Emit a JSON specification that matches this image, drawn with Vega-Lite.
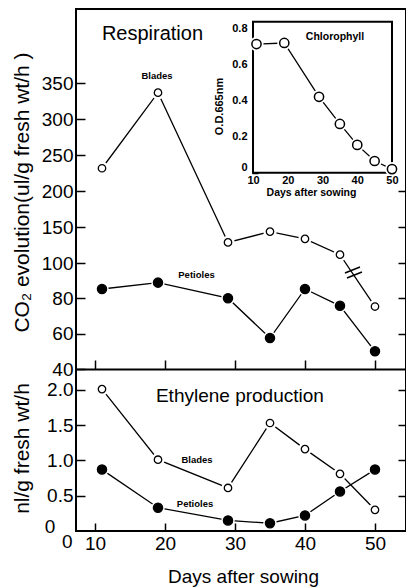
{
  "$schema": "https://vega.github.io/schema/vega-lite/v6.json",
  "width": 330,
  "height": 522,
  "autosize": {"type": "none"},
  "padding": {"left": 76, "top": 9, "right": 0, "bottom": 57},
  "background": "white",
  "config": {
    "view": {"stroke": "black", "strokeWidth": 2},
    "font": "Liberation Sans",
    "axis": {
      "labelFont": "Liberation Sans", "labelFontSize": 19, "labelColor": "black",
      "titleFont": "Liberation Sans", "titleFontWeight": "normal", "titleColor": "black",
      "tickColor": "black", "tickWidth": 1.5, "domain": false, "grid": false,
      "labelFlush": false, "labelOverlap": false
    }
  },
  "datasets": {
    "resp": [
      {"day": 11, "value": 232, "tissue": "Blades"},
      {"day": 19, "value": 337, "tissue": "Blades"},
      {"day": 29, "value": 129, "tissue": "Blades"},
      {"day": 35, "value": 144, "tissue": "Blades"},
      {"day": 40, "value": 134, "tissue": "Blades"},
      {"day": 45, "value": 112, "tissue": "Blades"},
      {"day": 50, "value": 75.3, "tissue": "Blades"},
      {"day": 11, "value": 85.2, "tissue": "Petioles"},
      {"day": 19, "value": 88.8, "tissue": "Petioles"},
      {"day": 29, "value": 80, "tissue": "Petioles"},
      {"day": 35, "value": 57.5, "tissue": "Petioles"},
      {"day": 40, "value": 85.2, "tissue": "Petioles"},
      {"day": 45, "value": 75.7, "tissue": "Petioles"},
      {"day": 50, "value": 50, "tissue": "Petioles"}
    ],
    "eth": [
      {"day": 11, "value": 2.01, "tissue": "Blades"},
      {"day": 19, "value": 1.01, "tissue": "Blades"},
      {"day": 29, "value": 0.61, "tissue": "Blades"},
      {"day": 35, "value": 1.53, "tissue": "Blades"},
      {"day": 40, "value": 1.16, "tissue": "Blades"},
      {"day": 45, "value": 0.81, "tissue": "Blades"},
      {"day": 50, "value": 0.30, "tissue": "Blades"},
      {"day": 11, "value": 0.87, "tissue": "Petioles"},
      {"day": 19, "value": 0.33, "tissue": "Petioles"},
      {"day": 29, "value": 0.15, "tissue": "Petioles"},
      {"day": 35, "value": 0.11, "tissue": "Petioles"},
      {"day": 40, "value": 0.22, "tissue": "Petioles"},
      {"day": 45, "value": 0.56, "tissue": "Petioles"},
      {"day": 50, "value": 0.87, "tissue": "Petioles"}
    ],
    "chl": [
      {"day": 11, "value": 0.712},
      {"day": 19, "value": 0.718},
      {"day": 29, "value": 0.42},
      {"day": 35, "value": 0.27},
      {"day": 40, "value": 0.154},
      {"day": 45, "value": 0.065},
      {"day": 50, "value": 0.02}
    ]
  },
  "layer": [
    {
      "layer": [
        {
          "data": {"name": "resp"},
          "mark": {"type": "line", "color": "black", "strokeWidth": 1.3},
          "encoding": {
            "x": {"field": "day", "type": "quantitative", "scale": {"domain": [7.286, 54.43], "nice": false, "zero": false},
              "axis": {"orient": "bottom", "offset": -162, "values": [10, 20, 30, 40, 50], "domain": true, "domainColor": "black", "domainWidth": 2, "labels": false, "tickSize": -9, "title": null}},
            "y": {"field": "value", "type": "quantitative", "scale": {"domain": [40, 90, 100, 453.2], "range": [360, 271.5, 254.3, 0], "nice": false, "zero": false},
              "axis": {"orient": "left", "values": [40, 60, 80, 100, 150, 200, 250, 300, 350], "format": "d", "tickSize": -9, "labelPadding": 12,
                "title": "CO₂ evolution(ul/g fresh wt/h )", "titleFontSize": 21, "titleX": -54, "titleY": 183, "titleAngle": -90, "titleBaseline": "middle", "titleAlign": "center"}},
            "detail": {"field": "tissue"}
          }
        },
        {
          "data": {"name": "resp"},
          "mark": {"type": "point", "shape": "circle", "filled": true, "color": "white", "size": 180, "opacity": 1},
          "encoding": {
            "x": {"field": "day", "type": "quantitative", "scale": {"domain": [7.286, 54.43], "nice": false, "zero": false}, "axis": null},
            "y": {"field": "value", "type": "quantitative", "scale": {"domain": [40, 90, 100, 453.2], "range": [360, 271.5, 254.3, 0], "nice": false, "zero": false}, "axis": null}
          }
        },
        {
          "data": {"name": "resp"},
          "mark": {"type": "point", "shape": "circle", "filled": true, "stroke": "black", "strokeWidth": 1.3, "opacity": 1},
          "encoding": {
            "x": {"field": "day", "type": "quantitative", "scale": {"domain": [7.286, 54.43], "nice": false, "zero": false}, "axis": null},
            "y": {"field": "value", "type": "quantitative", "scale": {"domain": [40, 90, 100, 453.2], "range": [360, 271.5, 254.3, 0], "nice": false, "zero": false},
              "axis": {"orient": "right", "values": [60, 80, 100, 150, 200], "tickSize": -8, "labels": false, "title": null}},
            "fill": {"field": "tissue", "type": "nominal", "scale": {"domain": ["Blades", "Petioles"], "range": ["white", "black"]}, "legend": null},
            "size": {"field": "tissue", "type": "nominal", "scale": {"domain": ["Blades", "Petioles"], "range": [55, 85]}, "legend": null}
          }
        },
        {
          "data": {"values": [
            {"day": 45.71, "value": 94.36, "day2": 47.86, "value2": 97.85},
            {"day": 46.0, "value": 91.45, "day2": 48.14, "value2": 94.94}
          ]},
          "mark": {"type": "rule", "color": "black", "strokeWidth": 1.5},
          "encoding": {
            "x": {"field": "day", "type": "quantitative", "scale": {"domain": [7.286, 54.43], "nice": false, "zero": false}, "axis": null},
            "y": {"field": "value", "type": "quantitative", "scale": {"domain": [40, 90, 100, 453.2], "range": [360, 271.5, 254.3, 0], "nice": false, "zero": false}, "axis": null},
            "x2": {"field": "day2"},
            "y2": {"field": "value2"}
          }
        },
        {
          "data": {"values": [{"day": 18.21, "value": 417.8, "text": "Respiration"}]},
          "mark": {"type": "text", "fontSize": 20, "color": "black", "align": "center", "baseline": "middle"},
          "encoding": {
            "x": {"field": "day", "type": "quantitative", "scale": {"domain": [7.286, 54.43], "nice": false, "zero": false}, "axis": null},
            "y": {"field": "value", "type": "quantitative", "scale": {"domain": [40, 90, 100, 453.2], "range": [360, 271.5, 254.3, 0], "nice": false, "zero": false}, "axis": null},
            "text": {"field": "text"}
          }
        },
        {
          "data": {"values": [
            {"day": 18.86, "value": 360.1, "text": "Blades"},
            {"day": 24.5, "value": 93.2, "text": "Petioles"}
          ]},
          "mark": {"type": "text", "fontSize": 9.5, "fontWeight": "bold", "color": "black", "align": "center", "baseline": "middle"},
          "encoding": {
            "x": {"field": "day", "type": "quantitative", "scale": {"domain": [7.286, 54.43], "nice": false, "zero": false}, "axis": null},
            "y": {"field": "value", "type": "quantitative", "scale": {"domain": [40, 90, 100, 453.2], "range": [360, 271.5, 254.3, 0], "nice": false, "zero": false}, "axis": null},
            "text": {"field": "text"}
          }
        }
      ],
      "resolve": {"axis": {"x": "independent", "y": "independent"}}
    },
    {
      "layer": [
        {
          "data": {"name": "eth"},
          "mark": {"type": "line", "color": "black", "strokeWidth": 1.3},
          "encoding": {
            "x": {"field": "day", "type": "quantitative", "scale": {"domain": [7.286, 54.43], "nice": false, "zero": false},
              "axis": {"orient": "bottom", "values": [10, 20, 30, 40, 50], "format": "d", "tickSize": -8, "labelPadding": 11,
                "title": "Days after sowing", "titleFontSize": 19, "titleX": 167, "titleY": 51, "titleBaseline": "alphabetic", "titleAlign": "center"}},
            "y": {"field": "value", "type": "quantitative", "scale": {"domain": [0, 2.295], "range": [522, 360], "nice": false, "zero": false},
              "axis": {"orient": "left", "values": [0.5, 1, 1.5, 2], "format": ".1f",
                "tickSize": -9, "labelPadding": 12,
                "title": "nl/g fresh wt/h", "titleFontSize": 21, "titleX": -54, "titleY": 439, "titleAngle": -90, "titleBaseline": "middle", "titleAlign": "center"}},
            "detail": {"field": "tissue"}
          }
        },
        {
          "data": {"name": "eth"},
          "mark": {"type": "point", "shape": "circle", "filled": true, "color": "white", "size": 180, "opacity": 1},
          "encoding": {
            "x": {"field": "day", "type": "quantitative", "scale": {"domain": [7.286, 54.43], "nice": false, "zero": false}, "axis": null},
            "y": {"field": "value", "type": "quantitative", "scale": {"domain": [0, 2.295], "range": [522, 360], "nice": false, "zero": false}, "axis": null}
          }
        },
        {
          "data": {"name": "eth"},
          "mark": {"type": "point", "shape": "circle", "filled": true, "stroke": "black", "strokeWidth": 1.3, "opacity": 1},
          "encoding": {
            "x": {"field": "day", "type": "quantitative", "scale": {"domain": [7.286, 54.43], "nice": false, "zero": false}, "axis": null},
            "y": {"field": "value", "type": "quantitative", "scale": {"domain": [0, 2.295], "range": [522, 360], "nice": false, "zero": false},
              "axis": {"orient": "right", "values": [0.5, 1, 1.5, 2], "tickSize": -8, "labels": false, "title": null}},
            "fill": {"field": "tissue", "type": "nominal", "scale": {"domain": ["Blades", "Petioles"], "range": ["white", "black"]}, "legend": null},
            "size": {"field": "tissue", "type": "nominal", "scale": {"domain": ["Blades", "Petioles"], "range": [55, 85]}, "legend": null}
          }
        },
        {
          "data": {"values": [
            {"day": 30.7, "value": 1.916, "text": "Ethylene production"},
            {"day": 3.57, "value": 0.06, "text": "0"}
          ]},
          "mark": {"type": "text", "fontSize": 19, "color": "black", "align": "center", "baseline": "middle"},
          "encoding": {
            "x": {"field": "day", "type": "quantitative", "scale": {"domain": [7.286, 54.43], "nice": false, "zero": false},
              "axis": {"orient": "bottom", "values": [7.286], "labelExpr": "'0'", "tickSize": 0, "labelPadding": 1, "labelAlign": "right", "labelOffset": -4, "title": null}},
            "y": {"field": "value", "type": "quantitative", "scale": {"domain": [0, 2.295], "range": [522, 360], "nice": false, "zero": false}, "axis": null},
            "text": {"field": "text"}
          }
        },
        {
          "data": {"values": [
            {"day": 24.57, "value": 1.01, "text": "Blades"},
            {"day": 24.29, "value": 0.387, "text": "Petioles"}
          ]},
          "mark": {"type": "text", "fontSize": 9.5, "fontWeight": "bold", "color": "black", "align": "center", "baseline": "middle"},
          "encoding": {
            "x": {"field": "day", "type": "quantitative", "scale": {"domain": [7.286, 54.43], "nice": false, "zero": false}, "axis": null},
            "y": {"field": "value", "type": "quantitative", "scale": {"domain": [0, 2.295], "range": [522, 360], "nice": false, "zero": false}, "axis": null},
            "text": {"field": "text"}
          }
        }
      ],
      "resolve": {"axis": {"x": "independent", "y": "independent"}}
    },
    {
      "layer": [
        {
          "data": {"values": [{"d1": 10, "d2": 50, "v1": 0, "v2": 0.836}]},
          "mark": {"type": "rect", "fill": "white", "stroke": "black", "strokeWidth": 2},
          "encoding": {
            "x": {"field": "d1", "type": "quantitative", "scale": {"domain": [-40.94, 54.03], "nice": false, "zero": false},
              "axis": {"orient": "bottom", "offset": -358, "values": [10, 20, 30, 40, 50], "format": "d", "tickSize": -7, "labelPadding": 8,
                "labelFontSize": 11, "labelFontWeight": "bold",
                "title": "Days after sowing", "titleFontSize": 10.5, "titleFontWeight": "bold", "titleX": 235, "titleY": 19, "titleBaseline": "middle", "titleAlign": "center"}},
            "x2": {"field": "d2"},
            "y": {"field": "v1", "type": "quantitative", "scale": {"domain": [-1.086, 0.906], "range": [360, 0], "nice": false, "zero": false},
              "axis": {"orient": "left", "offset": -176, "values": [0, 0.2, 0.4, 0.6, 0.8], "format": ".1f", "labelExpr": "datum.value == 0 ? '0' : datum.label",
                "tickSize": -6, "labelPadding": 11,
                "labelOffset": {"condition": {"test": "datum.value == 0", "value": -5}, "value": 0},
                "labelFontSize": 11, "labelFontWeight": "bold",
                "title": "O.D.665nm", "titleFontSize": 11, "titleFontWeight": "bold", "titleX": -33, "titleY": 97, "titleAngle": -90, "titleBaseline": "middle", "titleAlign": "center"}},
            "y2": {"field": "v2"}
          }
        },
        {
          "data": {"name": "chl"},
          "mark": {"type": "line", "color": "black", "strokeWidth": 1.3},
          "encoding": {
            "x": {"field": "day", "type": "quantitative", "scale": {"domain": [-40.94, 54.03], "nice": false, "zero": false}, "axis": null},
            "y": {"field": "value", "type": "quantitative", "scale": {"domain": [-1.086, 0.906], "range": [360, 0], "nice": false, "zero": false}, "axis": null}
          }
        },
        {
          "data": {"name": "chl"},
          "mark": {"type": "point", "shape": "circle", "filled": true, "color": "white", "size": 200, "opacity": 1},
          "encoding": {
            "x": {"field": "day", "type": "quantitative", "scale": {"domain": [-40.94, 54.03], "nice": false, "zero": false}, "axis": null},
            "y": {"field": "value", "type": "quantitative", "scale": {"domain": [-1.086, 0.906], "range": [360, 0], "nice": false, "zero": false}, "axis": null}
          }
        },
        {
          "data": {"name": "chl"},
          "mark": {"type": "point", "shape": "circle", "filled": true, "fill": "white", "stroke": "black", "strokeWidth": 1.5, "size": 85, "opacity": 1},
          "encoding": {
            "x": {"field": "day", "type": "quantitative", "scale": {"domain": [-40.94, 54.03], "nice": false, "zero": false}, "axis": null},
            "y": {"field": "value", "type": "quantitative", "scale": {"domain": [-1.086, 0.906], "range": [360, 0], "nice": false, "zero": false},
              "axis": {"orient": "right", "offset": -14, "values": [0.2, 0.4, 0.6, 0.8], "tickSize": -7, "labels": false, "title": null}}
          }
        },
        {
          "data": {"values": [{"day": 33.6, "value": 0.749, "text": "Chlorophyll"}]},
          "mark": {"type": "text", "fontSize": 10.5, "fontWeight": "bold", "color": "black", "align": "center", "baseline": "middle"},
          "encoding": {
            "x": {"field": "day", "type": "quantitative", "scale": {"domain": [-40.94, 54.03], "nice": false, "zero": false}, "axis": null},
            "y": {"field": "value", "type": "quantitative", "scale": {"domain": [-1.086, 0.906], "range": [360, 0], "nice": false, "zero": false}, "axis": null},
            "text": {"field": "text"}
          }
        }
      ],
      "resolve": {"axis": {"x": "independent", "y": "independent"}}
    }
  ],
  "resolve": {"scale": {"x": "independent", "y": "independent"}, "axis": {"x": "independent", "y": "independent"}}
}
